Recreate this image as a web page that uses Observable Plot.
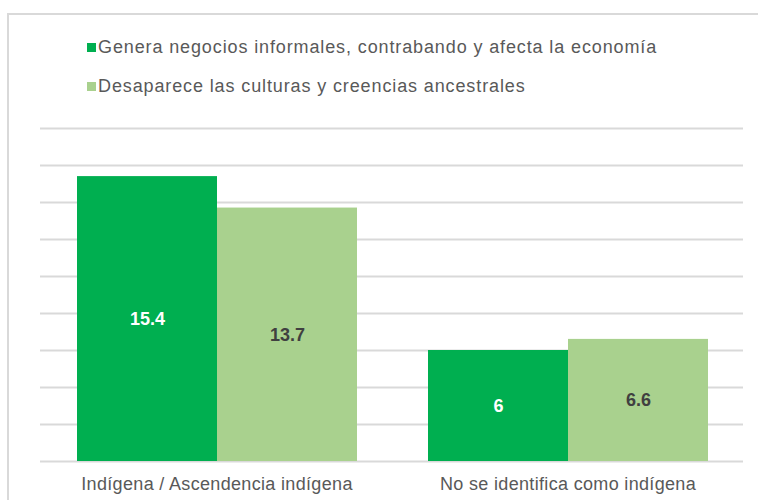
<!DOCTYPE html>
<html>
<head>
<meta charset="utf-8">
<script src="https://cdn.jsdelivr.net/npm/d3@7"></script>
<script src="https://cdn.jsdelivr.net/npm/@observablehq/plot@0.6"></script>
<style>
  html, body { margin: 0; padding: 0; background: #fff; overflow: hidden; }
  #wrap { position: relative; width: 758px; height: 500px; overflow: hidden; font-family: "Liberation Sans", Arial, sans-serif; }
  #frame { position: absolute; left: 7px; top: 13px; width: 800px; height: 600px; border: 2px solid #d9d9d9; box-sizing: border-box; }
  .layer { position: absolute; left: 0; top: 0; }
  #legend { position: absolute; left: 87px; top: 0; }
  .item { position: absolute; left: 0; white-space: nowrap; font-size: 18px; color: #595959; line-height: 20px; letter-spacing: 0.88px; }
  .sw { display: inline-block; width: 9px; height: 9px; margin-right: 2px; vertical-align: 1px; }
  #bars g[aria-label^="fx-axis"] text { letter-spacing: 0.33px; }
</style>
</head>
<body>
<div id="wrap">
  <div id="frame"></div>
  <div id="grid" class="layer"></div>
  <div id="bars" class="layer"></div>
  <div id="legend"></div>
</div>
<script>
const categories = ["Indígena / Ascendencia indígena", "No se identifica como indígena"];
const series = ["Genera negocios informales, contrabando y afecta la economía", "Desaparece las culturas y creencias ancestrales"];
const valuesGenera = [15.4, 6];
const valuesDesaparece = [13.7, 6.6];
const colors = ["#00AF50", "#A9D18E"];
const yTicks = [0, 2, 4, 6, 8, 10, 12, 14, 16, 18];

const data = [];
categories.forEach((c, i) => {
  data.push({category: c, series: series[0], value: valuesGenera[i]});
  data.push({category: c, series: series[1], value: valuesDesaparece[i]});
});

const W = 758, H = 500;
const margins = {marginTop: 128, marginBottom: 39, marginLeft: 40, marginRight: 15};

const grid = Plot.plot({
  width: W, height: H, ...margins,
  style: {background: "transparent"},
  x: {axis: null},
  y: {domain: [0, 18], axis: null},
  marks: [
    Plot.ruleY(yTicks, {stroke: "#d9d9d9", strokeWidth: 2})
  ]
});
document.getElementById("grid").appendChild(grid);

const bars = Plot.plot({
  width: W, height: H, ...margins,
  style: {background: "transparent", fontSize: "18px", fontFamily: "Liberation Sans, Arial, sans-serif", color: "#595959"},
  fx: {domain: categories, paddingInner: 0.2, paddingOuter: 0.1, label: null, tickSize: 0, tickPadding: 16},
  x: {domain: series, padding: 0, axis: null},
  y: {domain: [0, 18], axis: null},
  color: {domain: series, range: colors},
  marks: [
    Plot.barY(data, {fx: "category", x: "series", y: "value", fill: "series"}),
    Plot.text(data.filter(d => d.series === series[0]), {fx: "category", x: "series", y: d => d.value / 2, text: d => String(d.value), fill: "#ffffff", fontWeight: "bold", fontSize: 18}),
    Plot.text(data.filter(d => d.series === series[1]), {fx: "category", x: "series", y: d => d.value / 2, text: d => String(d.value), fill: "#404040", fontWeight: "bold", fontSize: 18})
  ]
});
document.getElementById("bars").appendChild(bars);

const legend = document.getElementById("legend");
const tops = [37, 76];
series.forEach((s, i) => {
  const div = document.createElement("div");
  div.className = "item";
  div.style.top = tops[i] + "px";
  const sw = document.createElement("span");
  sw.className = "sw";
  sw.style.background = colors[i];
  div.appendChild(sw);
  div.appendChild(document.createTextNode(s));
  legend.appendChild(div);
});
</script>
</body>
</html>
